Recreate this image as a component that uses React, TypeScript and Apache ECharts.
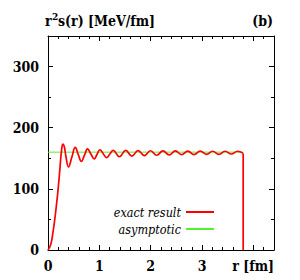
import React, { useEffect, useRef } from 'react';
import * as echarts from 'echarts';

// r in fm, r^2 s(r) in MeV/fm
const rExact = [
  0, 0.05, 0.09, 0.13, 0.165, 0.195, 0.23, 0.26, 0.29, 0.32, 0.345, 0.4,
  0.465, 0.53, 0.59, 0.65, 0.71, 0.77, 0.835, 0.9, 0.955, 1.01, 1.075,
  1.14, 1.205, 1.27, 1.391, 1.512, 1.633, 1.754, 1.875, 1.996, 2.117,
  2.238, 2.359, 2.48, 2.601, 2.722, 2.843, 2.964, 3.085, 3.206, 3.327,
  3.448, 3.569, 3.69, 3.8,
];
const sExact = [
  0, 8, 25, 49, 74, 98, 131, 160, 173, 168, 155, 136,
  152, 168, 156, 145, 155, 165.5, 157, 149, 156.5, 164, 157.5,
  151, 157, 163, 152.5, 162.8, 153.5, 162.5, 154.5, 162.3, 155,
  162, 155.5, 162, 156, 161.8, 156, 161.7, 156.5, 161.5, 156.5,
  161.5, 157, 161.5, 158,
];
const rCut = [3.8, 3.8];
const sCut = [158, 0];
const rAsym = [0, 3.8];
const sAsym = [160, 160];

const xLabels = ['0', '1', '2', '3'];
const legendNames = ['exact result', 'asymptotic'];

const SERIF = 'DejaVu Serif Condensed, DejaVu Serif';

export default function App() {
  const ref = useRef<HTMLDivElement>(null);
  useEffect(() => {
    if (!ref.current) return;
    const chart = echarts.init(ref.current, undefined, { renderer: 'svg' });
    const zip = (a: number[], b: number[]) => a.map((v, i) => [v, b[i]]);
    const axisCommon = {
      axisLine: { show: true, onZero: false, lineStyle: { color: '#000', width: 1 } },
      axisTick: { show: true, inside: true, length: 5, lineStyle: { color: '#000', width: 1 } },
      splitLine: { show: false },
    };
    const xBase = {
      type: 'value' as const,
      min: 0,
      max: 4.4,
      interval: 1,
      ...axisCommon,
      minorTick: { show: true, splitNumber: 5, length: 3, lineStyle: { color: '#000', width: 1 } },
    };
    const yBase = {
      type: 'value' as const,
      min: 0,
      max: 350,
      interval: 100,
      ...axisCommon,
      minorTick: { show: true, splitNumber: 2, length: 3, lineStyle: { color: '#000', width: 1 } },
    };
    const labelStyle = {
      fontFamily: SERIF,
      fontWeight: 'bold' as const,
      fontSize: 14,
      color: '#000',
      margin: 9,
      showMaxLabel: false,
    };
    const t = (text: string, x: number, y: number, size: number, align: string) => ({
      type: 'text',
      x,
      y,
      style: { text, fontFamily: SERIF, fontWeight: 'bold', fontSize: size, fill: '#000', verticalAlign: 'middle', align },
    });
    chart.setOption({
      animation: false,
      backgroundColor: '#fff',
      grid: { left: 48, right: 26, top: 36, bottom: 30, containLabel: false },
      xAxis: [
        {
          ...xBase,
          position: 'bottom',
          axisLabel: {
            ...labelStyle,
            formatter: (v: number) => {
              const s = String(v);
              return xLabels.indexOf(s) >= 0 ? s : '';
            },
          },
        },
        { ...xBase, position: 'top', axisLabel: { show: false } },
      ],
      yAxis: [
        { ...yBase, position: 'left', axisLabel: { ...labelStyle } },
        { ...yBase, position: 'right', axisLabel: { show: false } },
      ],
      legend: {
        orient: 'vertical',
        right: 81,
        top: 200,
        align: 'right',
        icon: 'rect',
        itemWidth: 28,
        itemHeight: 2,
        itemGap: 3,
        data: legendNames,
        textStyle: {
          fontFamily: SERIF,
          fontStyle: 'italic',
          fontSize: 12.5,
          lineHeight: 14,
          color: '#000',
        },
      },
      series: [
        {
          name: legendNames[1],
          type: 'line',
          data: zip(rAsym, sAsym),
          symbol: 'none',
          lineStyle: { color: '#55ee33', width: 1 },
          itemStyle: { color: '#55ee33' },
        },
        {
          name: legendNames[0],
          type: 'line',
          data: zip(rExact, sExact),
          smooth: 0.45,
          symbol: 'none',
          lineStyle: { color: '#ff0000', width: 1.7 },
          itemStyle: { color: '#ff0000' },
        },
        {
          name: 'cut',
          type: 'line',
          data: zip(rCut, sCut),
          symbol: 'none',
          lineStyle: { color: '#ff0000', width: 1.7 },
          itemStyle: { color: '#ff0000' },
        },
      ],
      graphic: [
        t('r', 45, 21, 14, 'left'),
        t('2', 52, 16, 10, 'left'),
        t('s(r)', 58, 21, 14, 'left'),
        t('[MeV/fm]', 88, 21, 14, 'left'),
        t('(b)', 273, 21, 14, 'right'),
        t('r [fm]', 274, 266, 14, 'right'),
      ],
    });
    return () => chart.dispose();
  }, []);
  return (
    <div
      ref={ref}
      style={{ position: 'fixed', left: 0, top: 0, width: 300, height: 280, background: '#fff' }}
    />
  );
}
